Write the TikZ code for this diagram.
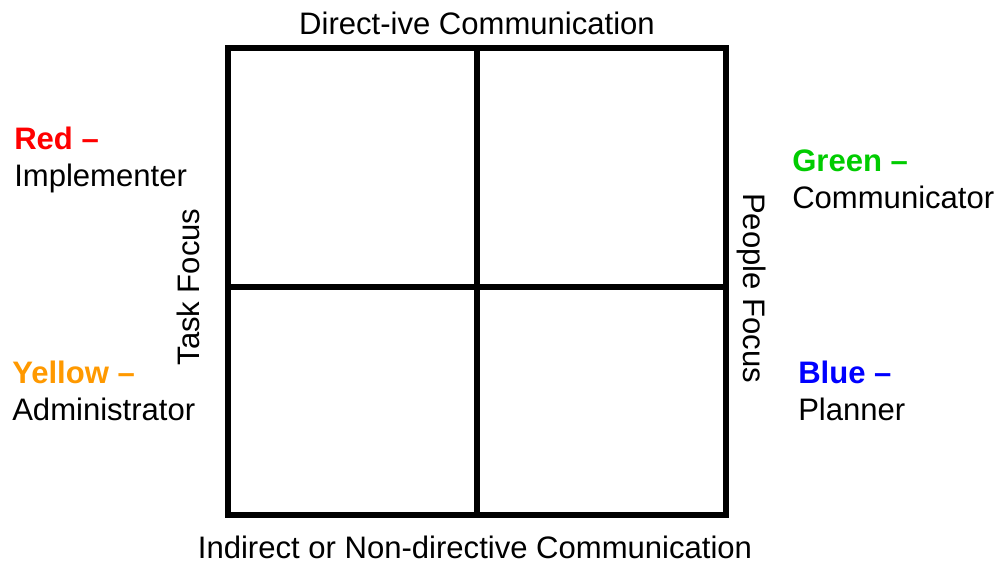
\documentclass[tikz,border=0pt]{standalone}
\usepackage{fontspec}
\setmainfont{Liberation Sans}
\definecolor{redc}{RGB}{255,0,0}
\definecolor{yellowc}{RGB}{255,153,0}
\definecolor{greenc}{RGB}{0,204,0}
\definecolor{bluec}{RGB}{0,0,255}
\begin{document}
\begin{tikzpicture}[x=0.75pt,y=-0.75pt,
    every node/.style={inner sep=0pt,font=\fontsize{23.3}{27.6}\selectfont},
    grid/.style={line width=3.9pt}]
    \useasboundingbox (0,0) rectangle (1001,563);
    \coordinate (a) at (228,48);
    \coordinate (b) at (726,48);
    \coordinate (c) at (228,515);
    \coordinate (d) at (726,515);
    \coordinate (e) at (477,48);
    \coordinate (f) at (477,515);
    \coordinate (g) at (228,287);
    \coordinate (h) at (726,287);
    \draw [grid] (a) -- (b) -- (d) -- (c) -- cycle;
    \draw [grid] (e) -- (f);
    \draw [grid] (g) -- (h);
    \node (top) at (477,23) {Direct-ive Communication};
    \node (bot) at (475,547) {Indirect or Non-directive Communication};
    \node (task) at (188,287) [rotate=90] {Task Focus};
    \node (people) at (752,288) [rotate=-90] {People Focus};
    \node (red) at (14,160) [anchor=west,align=left] {\textbf{\textcolor{redc}{Red –}}\\Implementer};
    \node (yellow) at (12,391) [anchor=west,align=left] {\textbf{\textcolor{yellowc}{Yellow –}}\\Administrator};
    \node (green) at (792,179) [anchor=west,align=left] {\textbf{\textcolor{greenc}{Green –}}\\Communicator};
    \node (blue) at (798,391) [anchor=west,align=left] {\textbf{\textcolor{bluec}{Blue –}}\\Planner};
  \end{tikzpicture}
\end{document}
